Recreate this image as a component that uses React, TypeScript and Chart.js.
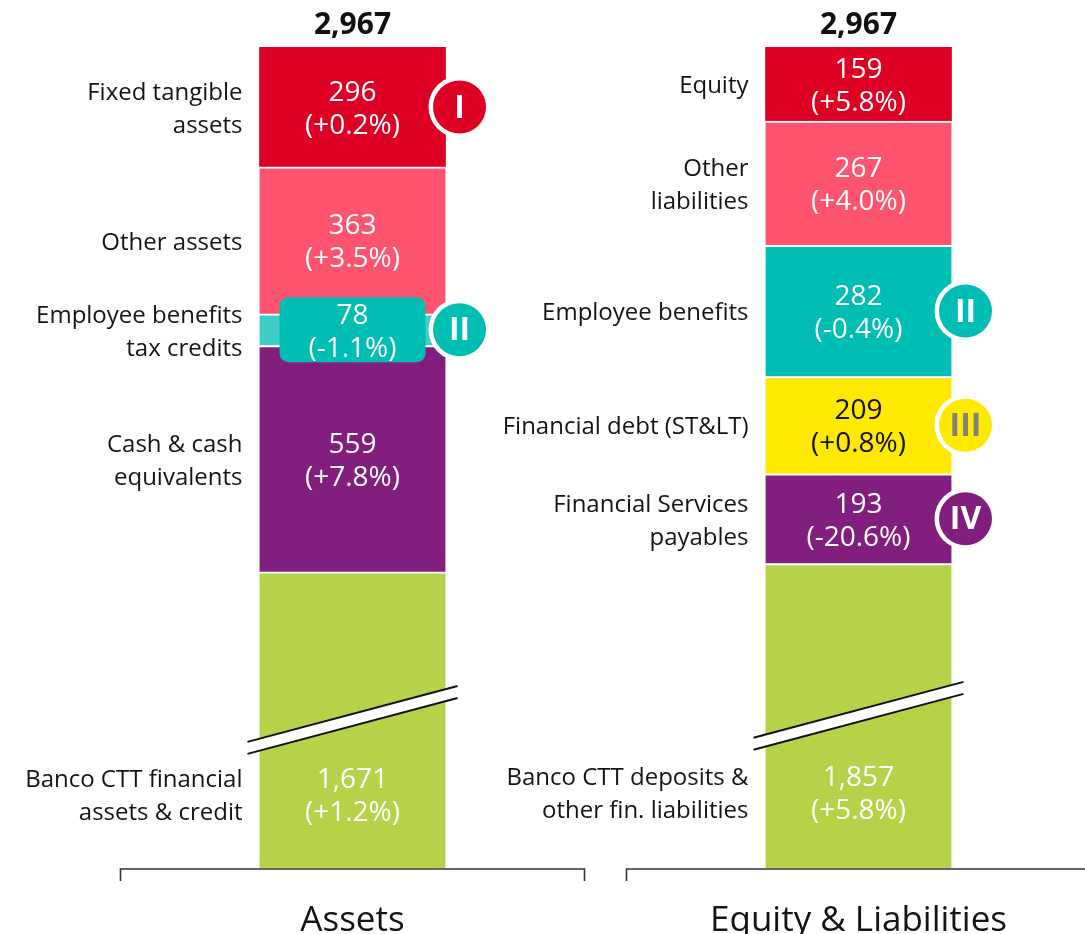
import React, { useEffect, useRef } from 'react';
import { Chart, registerables } from 'chart.js';

Chart.register(...registerables);

const CATEGORIES = ['Assets', 'Equity & Liabilities'];

// Assets – stacked from the bottom up
const ASSET_LABELS = [
  ['Banco CTT financial', 'assets & credit'],
  ['Cash & cash', 'equivalents'],
  ['Employee benefits', 'tax credits'],
  ['Other assets'],
  ['Fixed tangible', 'assets'],
];
const ASSET_VALUES = [1671, 559, 78, 363, 296];
const ASSET_CHANGES = ['+1.2%', '+7.8%', '-1.1%', '+3.5%', '+0.2%'];
const ASSET_COLORS = ['#B5D249', '#821E7E', '#3FCEC5', '#FF5470', '#DE0024'];
const ASSET_BADGES = ['', '', 'II', '', 'I'];

// Equity & Liabilities – stacked from the bottom up
const LIAB_LABELS = [
  ['Banco CTT deposits &', 'other fin. liabilities'],
  ['Financial Services', 'payables'],
  ['Financial debt (ST&LT)'],
  ['Employee benefits'],
  ['Other', 'liabilities'],
  ['Equity'],
];
const LIAB_VALUES = [1857, 193, 209, 282, 267, 159];
const LIAB_CHANGES = ['+5.8%', '-20.6%', '+0.8%', '-0.4%', '+4.0%', '+5.8%'];
const LIAB_COLORS = ['#B5D249', '#821E7E', '#FFE900', '#00BEB3', '#FF5470', '#DE0024'];
const LIAB_BADGES = ['', 'IV', 'III', 'II', '', ''];

// Broken axis: amount removed from the bottom segment of each bar
const BREAK_CUT = [940, 1203];

const HIGHLIGHT = '#00BEB3';
const FONT = "'Open Sans', 'Noto Sans', sans-serif";
const LINE_H = 33;
const TEXT_DY = 2.5;

const GROUPS = [
  { labels: ASSET_LABELS, values: ASSET_VALUES, changes: ASSET_CHANGES, colors: ASSET_COLORS, badges: ASSET_BADGES, cut: BREAK_CUT[0], axis: 'yA' },
  { labels: LIAB_LABELS, values: LIAB_VALUES, changes: LIAB_CHANGES, colors: LIAB_COLORS, badges: LIAB_BADGES, cut: BREAK_CUT[1], axis: 'yL' },
];

const sum = (a: number[]) => a.reduce((s, v) => s + v, 0);
const fmt = (v: number) => v.toLocaleString('en-US');

function isLight(hex: string) {
  const n = parseInt(hex.slice(1), 16);
  const r = (n >> 16) & 255, g = (n >> 8) & 255, b = n & 255;
  return (0.299 * r + 0.587 * g + 0.114 * b) / 255 > 0.78;
}

function buildDatasets() {
  const ds: any[] = [];
  GROUPS.forEach((g, b) => {
    g.values.forEach((v, i) => {
      const shown = i === 0 ? v - g.cut : v;
      const data: (number | null)[] = CATEGORIES.map((_, k) => (k === b ? shown : null));
      ds.push({
        label: g.labels[i].join(' '),
        data,
        backgroundColor: g.colors[i],
        borderColor: '#ffffff',
        borderWidth: { top: i === g.values.length - 1 ? 0 : 2, bottom: 0, left: 0, right: 0 },
        borderSkipped: false,
        yAxisID: g.axis,
        barThickness: 186,
      });
    });
  });
  return ds;
}

const overlayPlugin = {
  id: 'overlay',
  afterDatasetsDraw(chart: any) {
    const ctx: CanvasRenderingContext2D = chart.ctx;
    const xScale = chart.scales.x;
    const area = chart.chartArea;
    let dsOffset = 0;

    ctx.save();
    GROUPS.forEach((g, b) => {
      let barTop = Infinity;
      g.values.forEach((v, i) => {
        const el: any = chart.getDatasetMeta(dsOffset + i).data[b];
        const x = el.x, width = el.width;
        const top = Math.min(el.y, el.base);
        const bottom = Math.max(el.y, el.base);
        const left = x - width / 2;
        const right = x + width / 2;
        barTop = Math.min(barTop, top);
        let cy = (top + bottom) / 2;

        if (i === 0) {
          // axis-break marks
          const k = -0.266;
          const x0 = left - 12, x1 = right + 12;
          const yAt = (X: number, off: number) => cy + off + k * (X - x);
          ctx.beginPath();
          ctx.moveTo(x0, yAt(x0, -6));
          ctx.lineTo(x1, yAt(x1, -6));
          ctx.lineTo(x1, yAt(x1, 6));
          ctx.lineTo(x0, yAt(x0, 6));
          ctx.closePath();
          ctx.fillStyle = '#ffffff';
          ctx.fill();
          ctx.strokeStyle = '#111111';
          ctx.lineWidth = 2;
          ctx.beginPath();
          ctx.moveTo(x0, yAt(x0, -6));
          ctx.lineTo(x1, yAt(x1, -6));
          ctx.moveTo(x0, yAt(x0, 6));
          ctx.lineTo(x1, yAt(x1, 6));
          ctx.stroke();
          cy = (cy + bottom) / 2;
        }

        let fill = g.colors[i];
        if (bottom - top < 2 * LINE_H) {
          const bw = width - 40, bh = 65;
          ctx.beginPath();
          (ctx as any).roundRect(x - bw / 2, cy - bh / 2, bw, bh, 9);
          ctx.fillStyle = HIGHLIGHT;
          ctx.fill();
          fill = HIGHLIGHT;
        }

        // values
        ctx.textAlign = 'center';
        ctx.textBaseline = 'middle';
        ctx.font = `28px ${FONT}`;
        ctx.fillStyle = isLight(fill) ? '#111111' : '#ffffff';
        ctx.fillText(fmt(v), x, cy - LINE_H / 2 + TEXT_DY);
        ctx.fillText(`(${g.changes[i]})`, x, cy + LINE_H / 2 + TEXT_DY);

        // category labels on the left
        ctx.textAlign = 'right';
        ctx.font = `24px ${FONT}`;
        ctx.fillStyle = '#141414';
        const lines = g.labels[i];
        lines.forEach((ln, j) => {
          ctx.fillText(ln, left - 17, cy + (j - (lines.length - 1) / 2) * LINE_H + TEXT_DY);
        });

        // roman numeral badges
        const badge = g.badges[i];
        if (badge) {
          const bx = right + 14;
          ctx.beginPath();
          ctx.arc(bx, cy, 31, 0, Math.PI * 2);
          ctx.fillStyle = '#ffffff';
          ctx.fill();
          ctx.beginPath();
          ctx.arc(bx, cy, 26.5, 0, Math.PI * 2);
          ctx.fillStyle = fill;
          ctx.fill();
          ctx.textAlign = 'center';
          ctx.font = `bold 32px ${FONT}`;
          ctx.fillStyle = isLight(fill) ? '#808080' : '#ffffff';
          ctx.fillText(badge, bx, cy + 1.5);
        }
      });

      // total on top
      const cx = xScale.getPixelForValue(b);
      ctx.textAlign = 'center';
      ctx.textBaseline = 'middle';
      ctx.font = `bold 30px ${FONT}`;
      ctx.fillStyle = '#111111';
      ctx.fillText(fmt(sum(g.values)), cx, barTop - 22);

      // bracket under each category
      const half = (xScale.getPixelForValue(1) - xScale.getPixelForValue(0)) / 2;
      const bl = cx - half + 21, br = cx + half - 21, by = area.bottom + 1;
      ctx.strokeStyle = '#333333';
      ctx.lineWidth = 1.6;
      ctx.beginPath();
      ctx.moveTo(bl, by + 12);
      ctx.lineTo(bl, by);
      ctx.lineTo(br, by);
      ctx.lineTo(br, by + 12);
      ctx.stroke();

      dsOffset += g.values.length;
    });
    ctx.restore();
  },
};

export default function App() {
  const ref = useRef<HTMLCanvasElement>(null);

  useEffect(() => {
    const canvas = ref.current;
    if (!canvas) return;
    const chart = new Chart(canvas, {
      type: 'bar',
      data: { labels: CATEGORIES, datasets: buildDatasets() },
      options: {
        responsive: false,
        animation: false,
        devicePixelRatio: 1,
        layout: { padding: { left: 99.5, right: 13.5, top: 47, bottom: 6 } },
        plugins: { legend: { display: false }, tooltip: { enabled: false } },
        scales: {
          x: {
            stacked: true,
            grid: { display: false, drawTicks: false },
            border: { display: false },
            ticks: { color: '#141414', font: { family: FONT, size: 35 }, padding: 32 },
          },
          yA: { display: false, stacked: true, min: 0, max: sum(ASSET_VALUES) - BREAK_CUT[0] },
          yL: { display: false, stacked: true, min: 0, max: sum(LIAB_VALUES) - BREAK_CUT[1] },
        },
      } as any,
      plugins: [overlayPlugin],
    });
    return () => chart.destroy();
  }, []);

  return (
    <div style={{ position: 'absolute', left: 0, top: 0, width: 1085, height: 934, overflow: 'hidden', background: '#ffffff' }}>
      <canvas ref={ref} width={1125} height={980} style={{ display: 'block', width: 1125, height: 980 }} />
    </div>
  );
}
